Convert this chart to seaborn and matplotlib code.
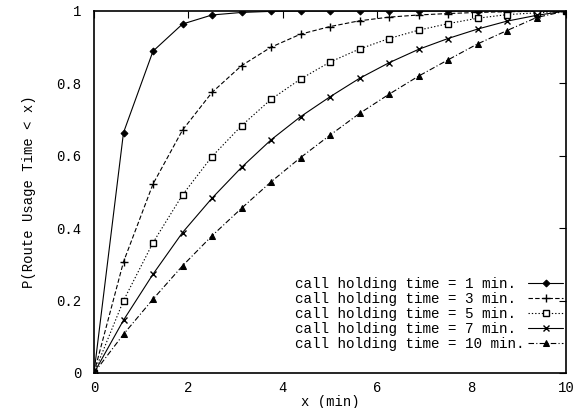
import matplotlib
matplotlib.use("Agg")
import matplotlib.pyplot as plt
import seaborn as sns
import pandas as pd

# ---- data ----
x_vals = [0, 0.625, 1.25, 1.875, 2.5, 3.125, 3.75, 4.375, 5.0, 5.625,
          6.25, 6.875, 7.5, 8.125, 8.75, 9.375, 10]
p_1min = [0, 0.664, 0.889, 0.964, 0.989, 0.996, 0.999, 1.0, 1.0, 1.0,
          1.0, 1.0, 1.0, 1.0, 1.0, 1.0, 1.0]
p_3min = [0, 0.307, 0.522, 0.671, 0.775, 0.849, 0.900, 0.936, 0.957, 0.973,
          0.983, 0.989, 0.993, 0.996, 0.998, 0.999, 1.0]
p_5min = [0, 0.200, 0.360, 0.492, 0.598, 0.683, 0.756, 0.812, 0.859, 0.895,
          0.924, 0.947, 0.965, 0.980, 0.990, 0.995, 1.0]
p_7min = [0, 0.146, 0.273, 0.388, 0.483, 0.568, 0.644, 0.708, 0.763, 0.814,
          0.857, 0.894, 0.924, 0.950, 0.972, 0.988, 1.0]
p_10min = [0, 0.107, 0.204, 0.296, 0.379, 0.455, 0.528, 0.595, 0.657, 0.717,
           0.770, 0.820, 0.865, 0.909, 0.946, 0.982, 1.0]
series_labels = ["call holding time = 1 min.", "call holding time = 3 min.",
                 "call holding time = 5 min.", "call holding time = 7 min.",
                 "call holding time = 10 min."]
x_ticks = [0, 2, 4, 6, 8, 10]
x_tick_labels = ["0", "2", "4", "6", "8", "10"]
y_ticks = [0, 0.2, 0.4, 0.6, 0.8, 1.0]
y_tick_labels = ["0", "0.2", "0.4", "0.6", "0.8", "1"]
x_label = "x (min)"
y_label = "P(Route Usage Time < x)"

sns.set_style("white")
plt.rcParams["font.family"] = ["Liberation Mono", "DejaVu Sans Mono"]

fig = plt.figure(figsize=(5.86, 4.08), dpi=100)
ax = fig.add_axes([94/586, 35/408, 472/586, 362/408])

styles = [
    dict(linestyle="-", marker="D", markersize=3.5, markerfacecolor="black"),
    dict(linestyle=(0, (4, 2)), marker="+", markersize=6, markeredgewidth=1.0),
    dict(linestyle=(0, (1.2, 1.8)), marker="s", markersize=4.5,
         markerfacecolor="white", markeredgewidth=1.0),
    dict(linestyle="-", marker="x", markersize=5, markeredgewidth=1.0),
    dict(linestyle=(0, (5, 2, 1, 2)), marker="^", markersize=4.5,
         markerfacecolor="black"),
]
# monospace font: pad labels to equal length so the text reads left-aligned
width = max(len(s) for s in series_labels)
all_series = [p_1min, p_3min, p_5min, p_7min, p_10min]
for vals, lab, st in zip(all_series, series_labels, styles):
    df = pd.DataFrame({"x": x_vals, "p": vals})
    sns.lineplot(data=df, x="x", y="p", ax=ax, color="black", linewidth=0.8,
                 markeredgecolor="black", label=lab.ljust(width), **st)

ax.set_xlim(0, 10)
ax.set_ylim(0, 1)
ax.set_xticks(x_ticks)
ax.set_xticklabels(x_tick_labels)
ax.set_yticks(y_ticks)
ax.set_yticklabels(y_tick_labels)
ax.tick_params(direction="in", top=True, right=True, length=5, width=0.8,
               labelsize=10, colors="black")
ax.tick_params(axis="x", pad=6)
ax.tick_params(axis="y", pad=9)
for s in ax.spines.values():
    s.set_color("black")
    s.set_linewidth(1.2)
ax.set_xlabel(x_label, fontsize=10, labelpad=0, color="black")
ax.set_ylabel(y_label, fontsize=10, labelpad=15, color="black")
ax.grid(False)

leg = ax.legend(loc="lower right", bbox_to_anchor=(0.993, 0.062),
                frameon=False, markerfirst=False, fontsize=10.3,
                handlelength=2.4, handletextpad=0.3, labelspacing=0.06,
                borderpad=0, borderaxespad=0)
for t in leg.get_texts():
    t.set_color("black")

fig.savefig("out.png", dpi=100, facecolor="white")
